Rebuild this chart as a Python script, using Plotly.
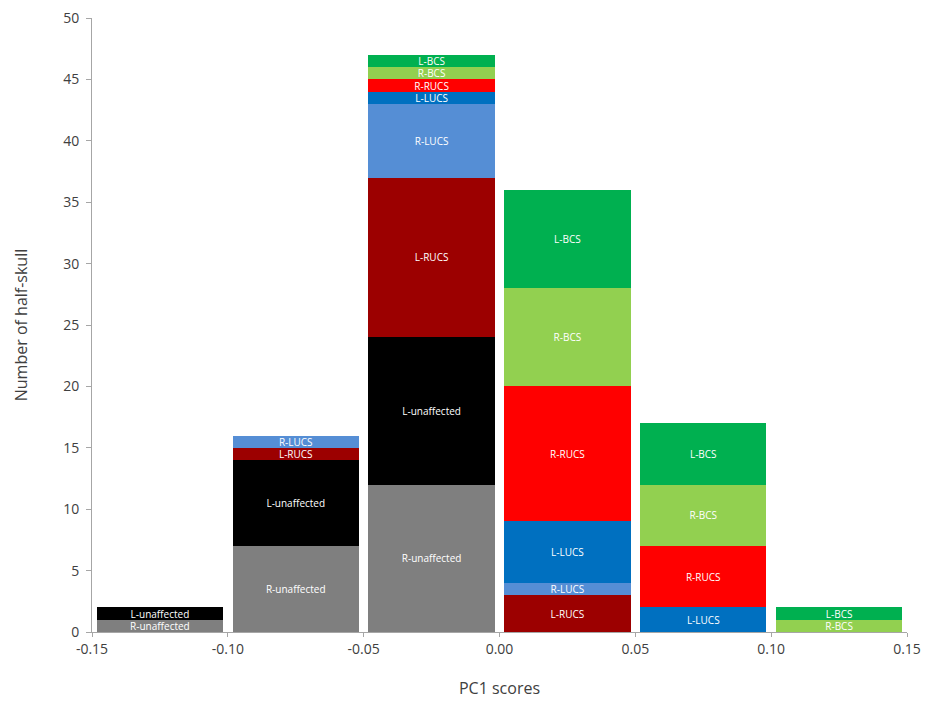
import plotly.graph_objects as go

# PC1 score bins (centres) and counts per group
bin_centres = [-0.125, -0.075, -0.025, 0.025, 0.075, 0.125]
tick_vals = [-0.15, -0.10, -0.05, 0.00, 0.05, 0.10, 0.15]

groups = ['R-unaffected', 'L-unaffected', 'L-RUCS', 'R-LUCS',
          'L-LUCS', 'R-RUCS', 'R-BCS', 'L-BCS']
r_unaffected = [1, 7, 12, 0, 0, 0]
l_unaffected = [1, 7, 12, 0, 0, 0]
l_rucs = [0, 1, 13, 3, 0, 0]
r_lucs = [0, 1, 6, 1, 0, 0]
l_lucs = [0, 0, 1, 5, 2, 0]
r_rucs = [0, 0, 1, 11, 5, 0]
r_bcs = [0, 0, 1, 8, 5, 1]
l_bcs = [0, 0, 1, 8, 5, 1]

counts = [r_unaffected, l_unaffected, l_rucs, r_lucs, l_lucs, r_rucs, r_bcs, l_bcs]
colours = ['#7f7f7f', '#000000', '#9c0000', '#558ed5',
           '#0070c0', '#ff0000', '#92d050', '#00b050']

fig = go.Figure()
for name, vals, col in zip(groups, counts, colours):
    y = [v if v else None for v in vals]
    fig.add_trace(go.Bar(
        x=bin_centres, y=y, name=name,
        marker=dict(color=col, line=dict(width=0)),
        text=[name if v else '' for v in vals],
        textposition='inside', insidetextanchor='middle',
        textfont=dict(color='white', size=10, family='Open Sans'),
        width=0.0465,
    ))

# page body adds ~7px offset, so margins are trimmed to match
fig.update_layout(
    barmode='stack',
    width=936, height=707,
    margin=dict(l=84, r=37, t=10, b=83),
    plot_bgcolor='white', paper_bgcolor='white',
    showlegend=False,
    uniformtext=dict(minsize=10, mode='show'),
    font=dict(family='Open Sans', color='#404040'),
)
fig.update_xaxes(
    range=[-0.15, 0.15], tickvals=tick_vals,
    ticktext=['%.2f' % t if abs(t) > 1e-9 else '0.00' for t in tick_vals],
    showline=True, linecolor='#a6a6a6', linewidth=1,
    ticks='outside', ticklen=4, tickcolor='#a6a6a6',
    ticklabeloverflow='allow',
    showgrid=False, zeroline=False, automargin=False,
    tickfont=dict(size=14, color='#404040'),
    title=dict(text='PC1 scores', font=dict(size=16, color='#404040'), standoff=26),
)
fig.update_yaxes(
    range=[0, 50], dtick=5,
    showline=True, linecolor='#a6a6a6', linewidth=1,
    ticks='outside', ticklen=5, tickcolor='#a6a6a6',
    ticklabelstandoff=4, ticklabeloverflow='allow',
    showgrid=False, zeroline=False, automargin=False,
    tickfont=dict(size=14, color='#404040'),
    title=dict(text='Number of half-skull', font=dict(size=16, color='#404040'), standoff=31),
)

fig.write_html("out.html")
